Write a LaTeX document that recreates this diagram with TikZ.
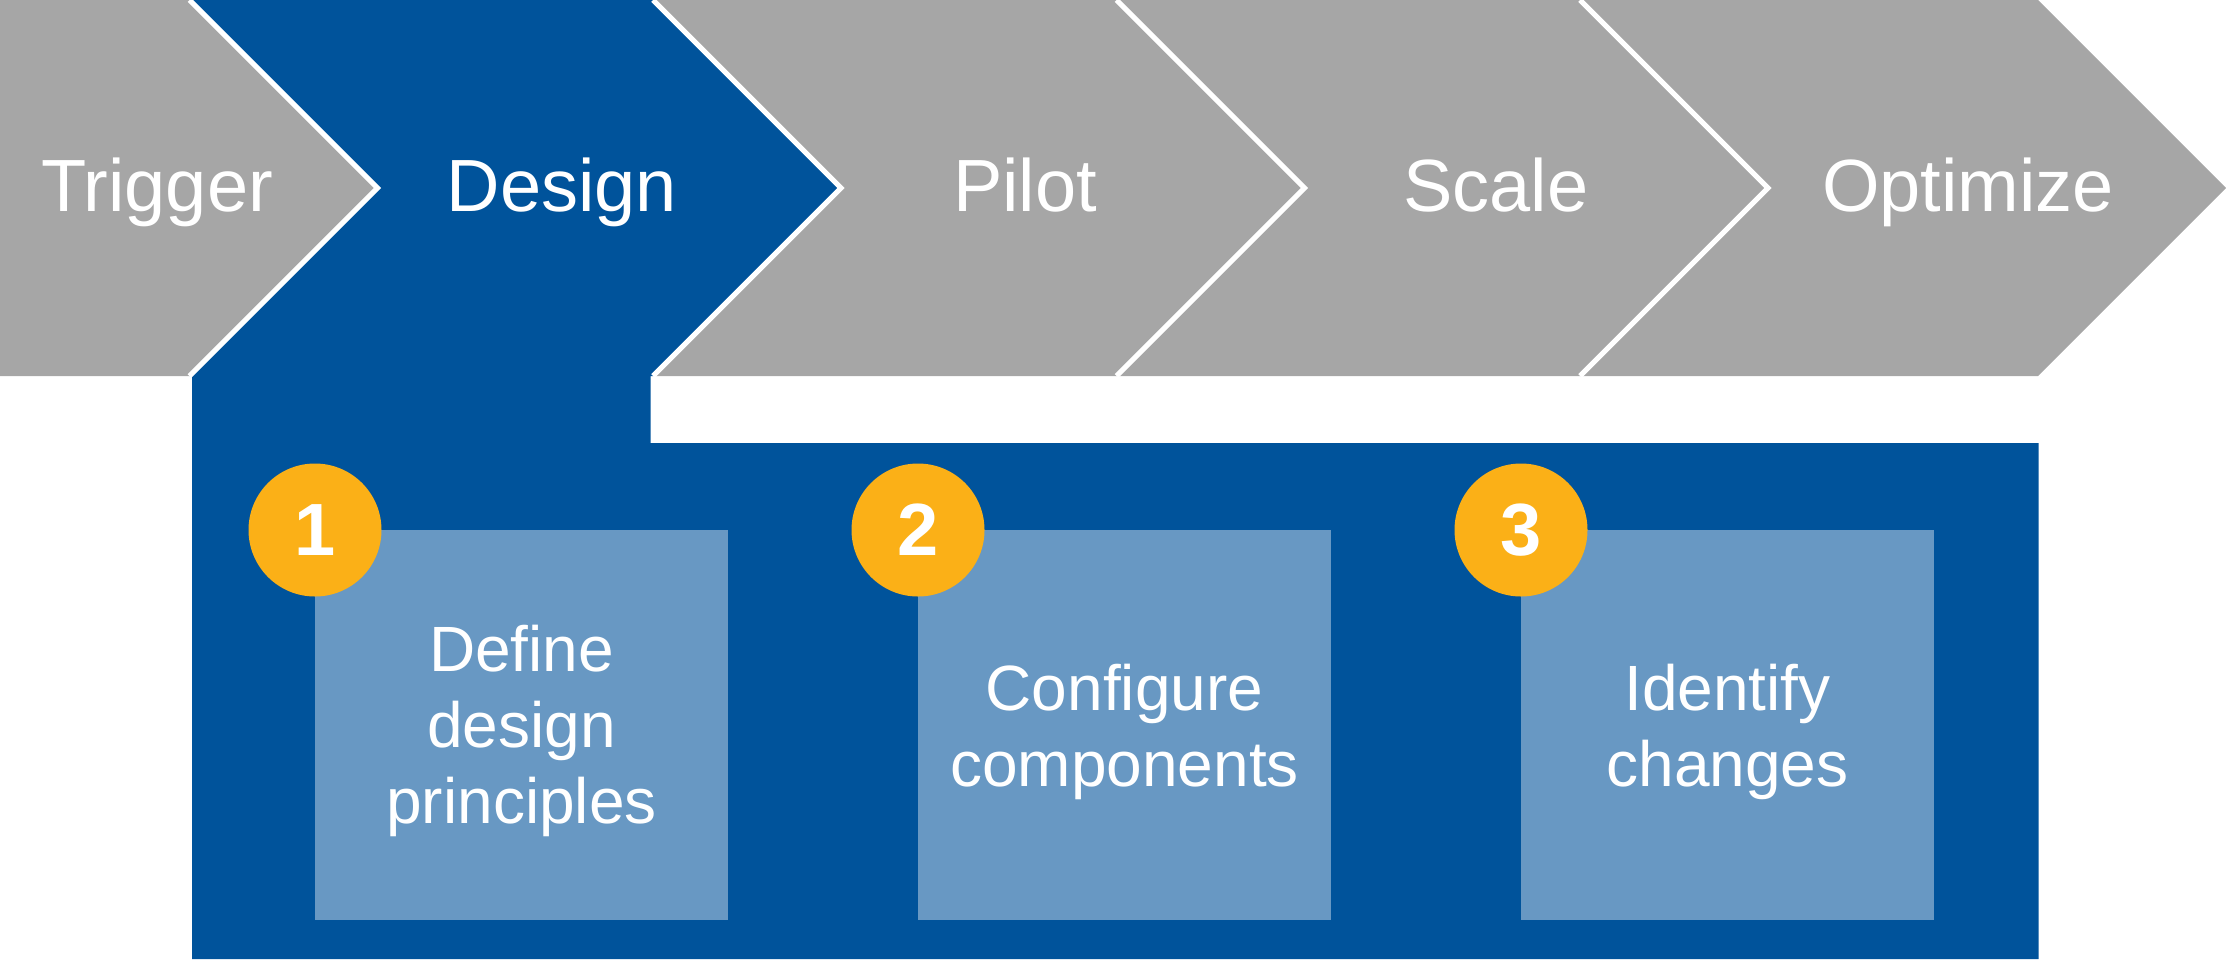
\documentclass[tikz,border=0pt]{standalone}
\usepackage{fontspec}
\setmainfont{Liberation Sans}
\definecolor{stepgray}{HTML}{A6A6A6}
\definecolor{phaseblue}{HTML}{00539B}
\definecolor{taskblue}{HTML}{6898C3}
\definecolor{badge}{HTML}{FBB017}
\tikzset{
  chevron/.style={fill=stepgray, draw=none},
  seam/.style={draw=white, line width=5pt, line join=miter},
  steplabel/.style={text=white, inner sep=0pt, anchor=base,
    font=\fontsize{74}{88}\selectfont},
  taskbox/.style={fill=taskblue, draw=none},
  tasklabel/.style={text=white, inner sep=0pt, align=center,
    font=\fontsize{64}{76}\selectfont},
  numbadge/.style={circle, fill=badge, draw=none, minimum size=133pt,
    inner sep=0pt, text=white, font=\fontsize{74}{88}\selectfont\bfseries},
}
\begin{document}
\begin{tikzpicture}[x=1pt, y=-1pt]
\useasboundingbox (0,0) rectangle (2226,959);

% grey process steps
\fill[chevron] (0,0) -- (189.5,0) -- (377.5,188) -- (189.5,376) -- (0,376) -- cycle;
\fill[chevron] (653,0) -- (1116.5,0) -- (1304.5,188) -- (1116.5,376) -- (653,376) -- (841,188) -- cycle;
\fill[chevron] (1116.5,0) -- (1580,0) -- (1768,188) -- (1580,376) -- (1116.5,376) -- (1304.5,188) -- cycle;
\fill[chevron] (1580,0) -- (2038,0) -- (2226,188) -- (2038,376) -- (1580,376) -- (1768,188) -- cycle;

% highlighted step with its detail panel
\fill[phaseblue] (189.5,0) -- (653,0) -- (841,188) -- (653,376) -- (650.5,376)
  -- (650.5,443) -- (2038.5,443) -- (2038.5,959) -- (192,959) -- (192,376)
  -- (189.5,376) -- (377.5,188) -- cycle;

% white separators between the steps
\begin{scope}
  \clip (0,0) rectangle (2226,376);
  \foreach \s in {189.5,653,1116.5,1580}
    \draw[seam] (\s,0) -- (\s+188,188) -- (\s,376);
\end{scope}

% step labels
\node[steplabel] (lTrigger)  at (157,211)  {Trigger};
\node[steplabel] (lDesign)   at (562,211)  {Design};
\node[steplabel] (lPilot)    at (1025,211) {Pilot};
\node[steplabel] (lScale)    at (1496,211) {Scale};
\node[steplabel] (lOptimize) at (1968,211) {Optimize};

% task boxes
\fill[taskbox] (315,530) rectangle (728,920);
\fill[taskbox] (918,530) rectangle (1331,920);
\fill[taskbox] (1521,530) rectangle (1934,920);

\node[tasklabel] (task1) at (521.5,731)  {Define\\design\\principles};
\node[tasklabel] (task2) at (1124.5,732) {Configure\\components};
\node[tasklabel] (task3) at (1727.5,732) {Identify\\changes};

% numbered badges
\node[numbadge] (n1) at (315,530)  {1};
\node[numbadge] (n2) at (918,530)  {2};
\node[numbadge] (n3) at (1521,530) {3};
\end{tikzpicture}
\end{document}
